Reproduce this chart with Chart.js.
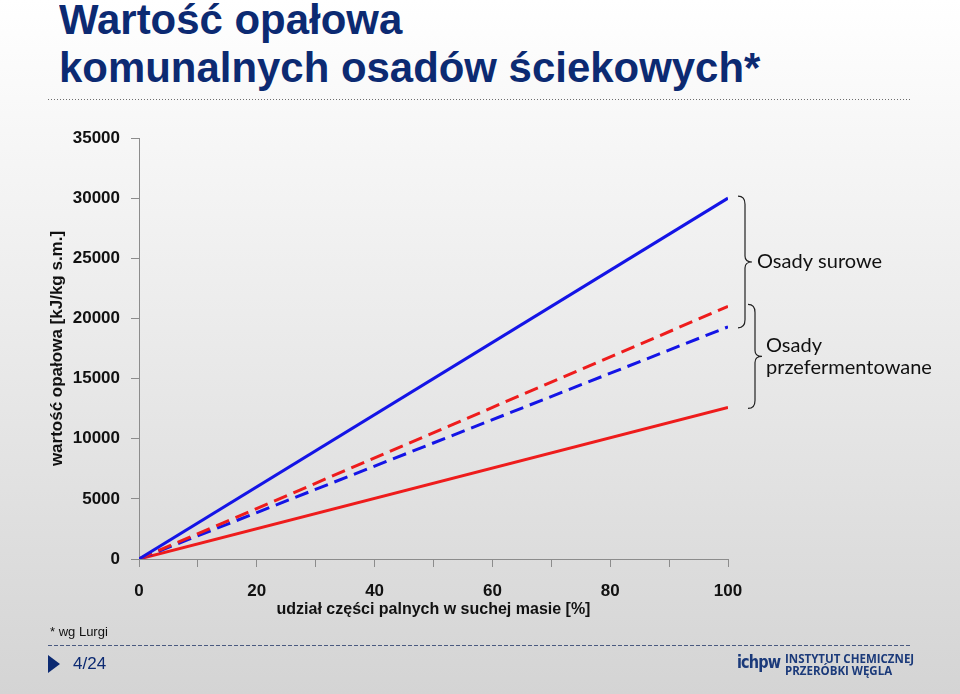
<!DOCTYPE html>
<html>
<head>
<meta charset="utf-8">
<script src="https://cdn.jsdelivr.net/npm/chart.js@4"></script>
<style>
  html, body { margin: 0; padding: 0; }
  body {
    width: 960px; height: 694px; overflow: hidden; position: relative;
    background: linear-gradient(to bottom, #ffffff 0%, #ececec 45%, #d4d4d4 100%);
    font-family: "Liberation Sans", Arial, sans-serif;
  }
  #chart { position: absolute; left: 0; top: 0; }
  .title {
    position: absolute; left: 59px; top: -5px; margin: 0;
    font-family: "Liberation Sans", Arial, sans-serif; white-space: nowrap;
    font-weight: bold; font-size: 43px; line-height: 48px; color: #0c2a72;
    transform: scaleX(0.975); transform-origin: left top;
  }
  .dots {
    position: absolute; left: 48px; width: 864px; height: 1px;
    background-image: linear-gradient(to right, #6d6d6d 50%, transparent 50%);
    background-size: 3px 1px;
  }
  .dash {
    position: absolute; left: 48px; width: 864px; height: 1px;
    background-image: linear-gradient(to right, #4a5a80 65%, transparent 65%);
    background-size: 6px 1px;
  }
  .note { position: absolute; left: 50px; top: 624px; font-size: 13px; color: #111; }
  .page { position: absolute; left: 73px; top: 654px; font-size: 17px; color: #0c2a72; }
  .tri {
    position: absolute; left: 48px; top: 655px; width: 0; height: 0;
    border-top: 9px solid transparent; border-bottom: 9px solid transparent;
    border-left: 12px solid #0c2a72;
  }
  .logo { position: absolute; left: 737px; top: 653px; color: #1b3a7a; font-weight: bold; }
  .logo .mark {
    position: absolute; left: 0; top: -1px; font-size: 17px; letter-spacing: -1px;
    font-family: "DejaVu Sans", sans-serif; transform: scaleX(0.85); transform-origin: left top;
  }
  .logo .txt {
    position: absolute; left: 48px; top: 0; font-size: 11.5px; line-height: 12px;
    white-space: nowrap; font-family: "Open Sans", sans-serif;
  }
</style>
</head>
<body>
<h1 class="title">Wartość opałowa<br>komunalnych osadów ściekowych*</h1>
<div class="dots" style="top:99px"></div>
<canvas id="chart" width="960" height="694"></canvas>
<div class="note">* wg Lurgi</div>
<div class="dash" style="top:645px"></div>
<div class="tri"></div>
<div class="page">4/24</div>
<div class="logo"><span class="mark">ichpw</span><span class="txt">INSTYTUT CHEMICZNEJ<br>PRZERÓBKI WĘGLA</span></div>

<script>
// udział części palnych [%]
const shares = [0, 100];
// wartość opałowa [kJ/kg s.m.]
const rawHigh = [0, 30000];
const rawLow = [0, 19300];
const digestedHigh = [0, 21000];
const digestedLow = [0, 12600];
const groupLabels = [['Osady surowe'], ['Osady', 'przefermentowane']];

const blue = '#1414e6';
const red = '#ee1c1c';
const axisColor = '#8c8c8c';

const points = vals => shares.map((x, i) => ({ x: x, y: vals[i] }));

// curly braces with the group labels on the right
const braces = {
  id: 'braces',
  afterDraw(chart) {
    const ctx = chart.ctx;
    const y = chart.scales.y;
    const groups = [
      { top: rawHigh[1], bottom: rawLow[1], x: 738, gap: 12, labels: groupLabels[0] },
      { top: digestedHigh[1], bottom: digestedLow[1], x: 748, gap: 11, labels: groupLabels[1] }
    ];
    ctx.save();
    ctx.strokeStyle = '#222';
    ctx.lineWidth = 1.2;
    groups.forEach(g => {
      const y1 = y.getPixelForValue(g.top) - 2;
      const y2 = y.getPixelForValue(g.bottom) + 1;
      const ym = (y1 + y2) / 2;
      const x = g.x, w = 7;
      ctx.beginPath();
      ctx.moveTo(x, y1);
      ctx.quadraticCurveTo(x + w, y1, x + w, y1 + 8);
      ctx.lineTo(x + w, ym - 6);
      ctx.quadraticCurveTo(x + w, ym, x + w + 7, ym);
      ctx.quadraticCurveTo(x + w, ym, x + w, ym + 6);
      ctx.lineTo(x + w, y2 - 8);
      ctx.quadraticCurveTo(x + w, y2, x, y2);
      ctx.stroke();

      ctx.fillStyle = '#111';
      ctx.font = '20px Lato, "Noto Sans", sans-serif';
      ctx.textBaseline = 'middle';
      const lh = 22;
      const start = ym - (g.labels.length - 1) * lh / 2;
      g.labels.forEach((t, i) => ctx.fillText(t, x + w + g.gap, start + i * lh));
    });
    ctx.restore();
  }
};

new Chart(document.getElementById('chart'), {
  type: 'scatter',
  data: {
    datasets: [
      { label: 'Osady surowe (max)', data: points(rawHigh), borderColor: blue },
      { label: 'Osady przefermentowane (max)', data: points(digestedHigh), borderColor: red, borderDash: [14, 7] },
      { label: 'Osady surowe (min)', data: points(rawLow), borderColor: blue, borderDash: [14, 7] },
      { label: 'Osady przefermentowane (min)', data: points(digestedLow), borderColor: red }
    ]
  },
  options: {
    responsive: false,
    animation: false,
    showLine: true,
    elements: {
      line: { borderWidth: 3, tension: 0 },
      point: { radius: 0, hoverRadius: 0 }
    },
    layout: { padding: { left: 40, right: 232, top: 138, bottom: 65 } },
    plugins: {
      legend: { display: false },
      tooltip: { enabled: false }
    },
    scales: {
      x: {
        type: 'linear',
        min: 0,
        max: 100,
        afterFit: s => { s.height = 70; },
        border: { color: axisColor },
        grid: { drawOnChartArea: false, tickLength: 8, color: axisColor },
        ticks: {
          stepSize: 10,
          padding: 14,
          maxRotation: 0,
          autoSkip: false,
          color: '#111',
          font: { family: '"Liberation Sans", Arial', size: 17, weight: 'bold' },
          callback: v => (v % 20 === 0 ? String(v) : '')
        },
        title: {
          display: true,
          text: 'udział części palnych w suchej masie [%]',
          color: '#111',
          padding: { top: 0, bottom: 10 },
          font: { family: '"Liberation Sans", Arial', size: 16, weight: 'bold' }
        }
      },
      y: {
        min: 0,
        max: 35000,
        afterFit: s => { s.width = 99; },
        border: { color: axisColor },
        grid: { drawOnChartArea: false, tickLength: 8, color: axisColor },
        ticks: {
          stepSize: 5000,
          padding: 11,
          color: '#111',
          font: { family: '"Liberation Sans", Arial', size: 17, weight: 'bold' },
          callback: v => String(v)
        },
        title: {
          display: true,
          text: 'wartość opałowa [kJ/kg s.m.]',
          color: '#111',
          padding: { top: 7, bottom: 0 },
          font: { family: '"Liberation Sans", Arial', size: 17, weight: 'bold' }
        }
      }
    }
  },
  plugins: [braces]
});
</script>
</body>
</html>
